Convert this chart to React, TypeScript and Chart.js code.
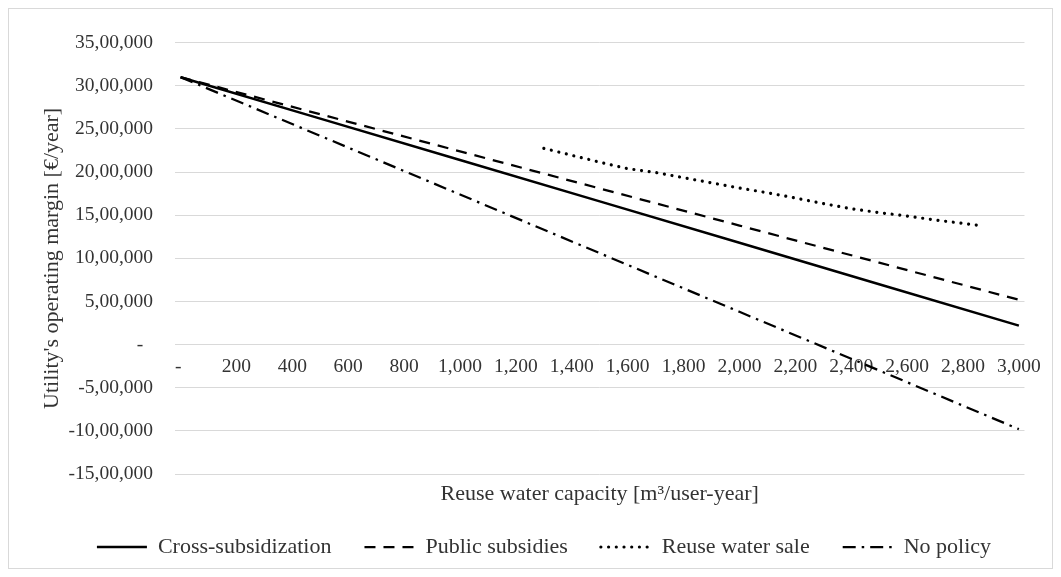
import React, { useEffect, useRef } from "react";
import { Chart, registerables } from "chart.js";

Chart.register(...registerables);

// ---- data ----
const xTickValues = [0, 200, 400, 600, 800, 1000, 1200, 1400, 1600, 1800, 2000, 2200, 2400, 2600, 2800, 3000];
const yTickValues = [-1500000, -1000000, -500000, 0, 500000, 1000000, 1500000, 2000000, 2500000, 3000000, 3500000];

const lineCapacity = [0, 500, 1000, 1500, 2000, 2500, 3000];
const crossSubsidization = [3100000, 2620000, 2140000, 1660000, 1180000, 700000, 220000];
const publicSubsidies = [3100000, 2670000, 2240000, 1810000, 1380000, 950000, 520000];
const noPolicy = [3100000, 2420000, 1740000, 1060000, 380000, -300000, -980000];

const reuseCapacity = [1300, 1400, 1500, 1600, 1700, 1800, 1900, 2000, 2100, 2200, 2300, 2400, 2500, 2600, 2700, 2800, 2850];
const reuseWaterSale = [2275000, 2195000, 2115000, 2040000, 1995000, 1935000, 1875000, 1815000, 1760000, 1700000, 1635000, 1575000, 1530000, 1490000, 1445000, 1405000, 1385000];

const seriesNames = ["Cross-subsidization", "Public subsidies", "Reuse water sale", "No policy"];

const FONT = "'Liberation Serif', 'Times New Roman', serif";
const TEXT = "#333333";
const GRID = "#d9d9d9";

function indian(v: number): string {
  if (v === 0) return "-  ";
  const neg = v < 0;
  const s = Math.round(Math.abs(v)).toString();
  let out = s.slice(-3);
  let rest = s.slice(0, -3);
  if (rest) {
    rest = rest.replace(/\B(?=(\d{2})+(?!\d))/g, ",");
    out = rest + "," + out;
  }
  return (neg ? "-" : "") + out;
}

function thousands(v: number): string {
  if (v === 0) return "- ";
  return Math.round(v).toString().replace(/\B(?=(\d{3})+(?!\d))/g, ",");
}

const pts = (xs: number[], ys: number[]) => xs.map((x, i) => ({ x, y: ys[i] }));

export default function App() {
  const ref = useRef<HTMLCanvasElement | null>(null);

  useEffect(() => {
    if (!ref.current) return;
    const chart = new Chart(ref.current, {
      type: "line",
      data: {
        datasets: [
          {
            label: seriesNames[0],
            data: pts(lineCapacity, crossSubsidization),
            borderColor: "#000",
            backgroundColor: "#000",
            borderWidth: 2.5,
            borderDash: [],
            borderCapStyle: "butt",
            pointRadius: 0,
            tension: 0,
          },
          {
            label: seriesNames[1],
            data: pts(lineCapacity, publicSubsidies),
            borderColor: "#000",
            backgroundColor: "#000",
            borderWidth: 2.25,
            borderDash: [11, 8],
            borderCapStyle: "butt",
            pointRadius: 0,
            tension: 0,
          },
          {
            label: seriesNames[2],
            data: pts(reuseCapacity, reuseWaterSale),
            borderColor: "#000",
            backgroundColor: "#000",
            borderWidth: 3.2,
            borderDash: [0.01, 7.7],
            borderCapStyle: "round",
            pointRadius: 0,
            tension: 0,
          },
          {
            label: seriesNames[3],
            data: pts(lineCapacity, noPolicy),
            borderColor: "#000",
            backgroundColor: "#000",
            borderWidth: 2.25,
            borderDash: [13, 6, 2.5, 6],
            borderCapStyle: "butt",
            pointRadius: 0,
            tension: 0,
          },
        ],
      },
      options: {
        responsive: false,
        animation: false,
        layout: { padding: { top: 24, right: 27, bottom: 0, left: 54 } },
        plugins: {
          tooltip: { enabled: false },
          legend: {
            position: "bottom",
            labels: {
              usePointStyle: true,
              pointStyle: "line",
              pointStyleWidth: 50,
              padding: 33,
              color: TEXT,
              font: { family: FONT, size: 22 },
              generateLabels: (c: any) => {
                const base = Chart.defaults.plugins.legend.labels.generateLabels(c);
                return base.map((it: any) => {
                  const ds: any = c.data.datasets[it.datasetIndex];
                  return {
                    ...it,
                    pointStyle: "line",
                    strokeStyle: "#000",
                    fillStyle: "#000",
                    lineWidth: ds.borderWidth,
                    lineDash: ds.borderDash || [],
                    lineCap: ds.borderCapStyle || "butt",
                  };
                });
              },
            },
          },
        },
        scales: {
          x: {
            type: "linear",
            position: { y: 0 } as any,
            min: -20,
            max: 3020,
            afterBuildTicks: (scale: any) => {
              scale.ticks = xTickValues.map((v) => ({ value: v }));
            },
            grid: { display: false, drawTicks: false },
            border: { display: false },
            ticks: {
              autoSkip: false,
              maxRotation: 0,
              padding: 11,
              color: TEXT,
              font: { family: FONT, size: 19.5 },
              callback: (v: any) => thousands(Number(v)),
            },
          },
          x2: {
            type: "linear",
            position: "bottom",
            grid: { display: false, drawTicks: false },
            border: { display: false },
            ticks: { display: false },
            title: {
              display: true,
              text: "Reuse water capacity [m³/user-year]",
              color: TEXT,
              font: { family: FONT, size: 22 },
              padding: { top: 6.8, bottom: -4.2 },
            },
          },
          y: {
            type: "linear",
            min: -1500000,
            max: 3500000,
            afterBuildTicks: (scale: any) => {
              scale.ticks = yTickValues.map((v) => ({ value: v }));
            },
            afterFit: (scale: any) => {
              scale.width = 112;
            },
            grid: { color: GRID, lineWidth: 1, drawTicks: false },
            border: { display: false },
            ticks: {
              padding: 22,
              color: TEXT,
              font: { family: FONT, size: 19.5 },
              callback: (v: any) => indian(Number(v)),
            },
            title: {
              display: true,
              text: "Utility's operating margin [€/year]",
              color: TEXT,
              font: { family: FONT, size: 22 },
              padding: { top: -24.2, bottom: 0 },
            },
          },
        },
      },
    });
    return () => chart.destroy();
  }, []);

  return (
    <div
      style={{
        width: 1043,
        height: 559,
        border: "1px solid #d9d9d9",
        background: "#fff",
      }}
    >
      <canvas ref={ref} width={1043} height={559} style={{ display: "block" }} />
    </div>
  );
}
